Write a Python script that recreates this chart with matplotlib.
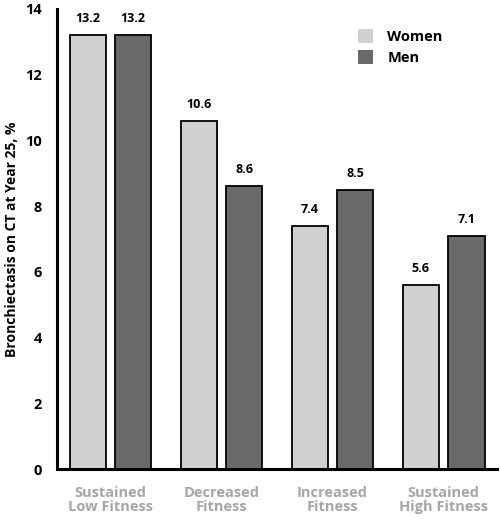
import matplotlib
matplotlib.use("Agg")
import matplotlib.pyplot as plt
import numpy as np
from matplotlib.patches import Patch

plt.rcParams['font.family'] = ['Open Sans', 'DejaVu Sans']

categories = ["Sustained\nLow Fitness", "Decreased\nFitness", "Increased\nFitness", "Sustained\nHigh Fitness"]
women = [13.2, 10.6, 7.4, 5.6]
men = [13.2, 8.6, 8.5, 7.1]
yticks = [0, 2, 4, 6, 8, 10, 12, 14]

fig = plt.figure(figsize=(5.0, 5.2), dpi=100)
ax = fig.add_axes([0.114, 0.098, 0.880, 0.885])

x = np.arange(len(categories))
w = 0.325
off = 0.205
bw = ax.bar(x - off, women, w, color="#d0d0d0", edgecolor="black", linewidth=1.3, label="Women")
bm = ax.bar(x + off, men, w, color="#6a6a6a", edgecolor="black", linewidth=1.3, label="Men")

for xi, v in zip(x - off, women):
    ax.text(xi, v + 0.3, f"{v:.1f}", ha="center", va="bottom", fontsize=9, fontweight="bold")
for xi, v in zip(x + off, men):
    ax.text(xi, v + 0.3, f"{v:.1f}", ha="center", va="bottom", fontsize=9, fontweight="bold")

ax.set_xlim(-0.48, 3.48)
ax.set_ylim(0, 14)
ax.set_yticks(yticks)
ax.set_yticklabels([str(t) for t in yticks], fontsize=10.5, fontweight="bold")
ax.set_xticks(x)
ax.set_xticklabels(categories, fontsize=10.5, fontweight="bold", color="#a6a6a6", linespacing=1.05)
ax.tick_params(axis="both", length=0)
ax.tick_params(axis="y", pad=11)
ax.tick_params(axis="x", pad=12)

for s in ["top", "right"]:
    ax.spines[s].set_visible(False)
for s in ["left", "bottom"]:
    ax.spines[s].set_linewidth(2.2)
    ax.spines[s].set_color("black")

ax.set_ylabel("Bronchiectasis on CT at Year 25, %", fontsize=10, fontweight="bold", labelpad=4)

handles = [Patch(facecolor="#d0d0d0", edgecolor="none"), Patch(facecolor="#6a6a6a", edgecolor="none")]
leg = ax.legend(handles, ["Women", "Men"], loc="upper left", bbox_to_anchor=(0.655, 0.985),
                frameon=False, prop={"weight": "bold", "size": 10.5},
                handlelength=1.0, handleheight=1.1, handletextpad=1.0, labelspacing=0.4)

fig.savefig("out.png", dpi=100)
